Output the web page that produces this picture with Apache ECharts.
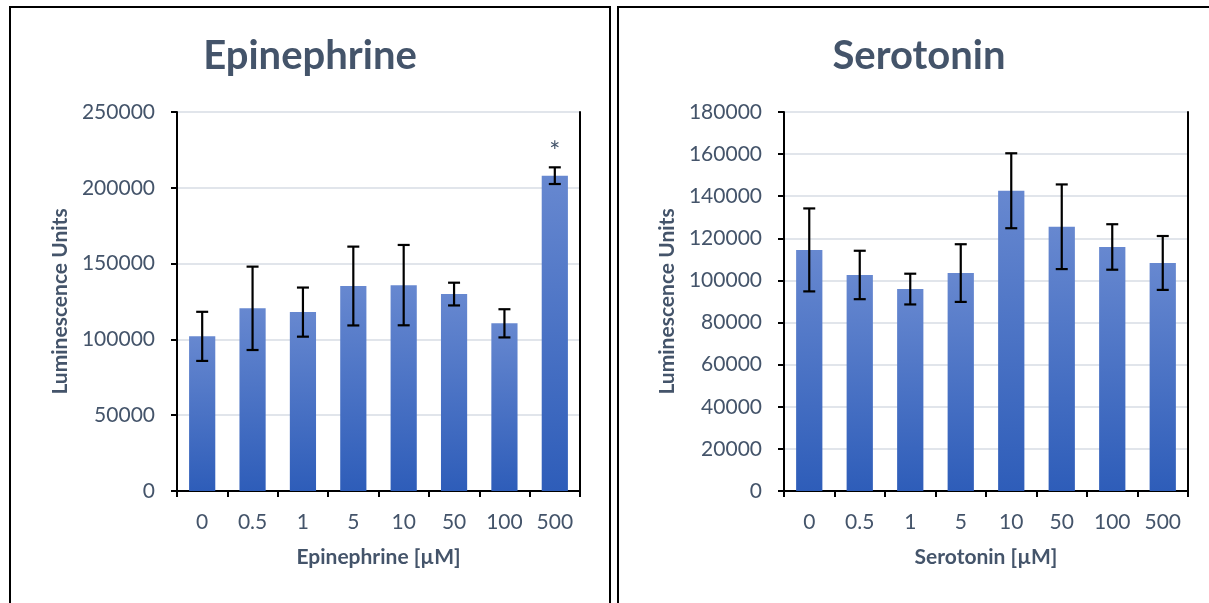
<!DOCTYPE html>
<html>
<head>
<meta charset="utf-8">
<script src="https://cdn.jsdelivr.net/npm/echarts@6/dist/echarts.min.js"></script>
<style>
html,body{margin:0;padding:0;background:#fff;}
#c{width:1209px;height:603px;}
</style>
</head>
<body>
<div id="c"></div>
<script>
// ---- data ----
const categories = ['0', '0.5', '1', '5', '10', '50', '100', '500'];
const epiValues = [102000, 120500, 118000, 135200, 135800, 129900, 110600, 208000];
const epiErrors = [16200, 27500, 16200, 26000, 26500, 7500, 9300, 5500];
const epiMarks = ['', '', '', '', '', '', '', '*'];
const seroValues = [114500, 102600, 95900, 103500, 142600, 125500, 115900, 108300];
const seroErrors = [19700, 11500, 7300, 13700, 17800, 20100, 10800, 12800];
const seroMarks = ['', '', '', '', '', '', '', ''];
const epiTicks = {min: 0, max: 250000, interval: 50000};
const seroTicks = {min: 0, max: 180000, interval: 20000};

const FONT = 'Lato';
const TXT = '#44546A';

const chart = echarts.init(document.getElementById('c'), null, {renderer: 'canvas'});

function barGradient() {
  return new echarts.graphic.LinearGradient(0, 0, 0, 1, [
    {offset: 0, color: '#6788D0'},
    {offset: 1, color: '#2E5DB9'}
  ]);
}

function errorSeries(values, errors, marks, idx) {
  const data = values.map((v, i) => [i, v - errors[i], v + errors[i], marks[i]]);
  return {
    type: 'custom',
    xAxisIndex: idx * 2, yAxisIndex: idx * 2,
    z: 5,
    data: data,
    renderItem: function (params, api) {
      const x = api.value(0);
      const lo = api.coord([x, api.value(1)]);
      const hi = api.coord([x, api.value(2)]);
      const cap = 6;
      const style = {stroke: '#000', lineWidth: 2.2};
      const children = [
        {type: 'line', shape: {x1: lo[0], y1: lo[1], x2: hi[0], y2: hi[1]}, style: style},
        {type: 'line', shape: {x1: lo[0] - cap, y1: lo[1], x2: lo[0] + cap, y2: lo[1]}, style: style},
        {type: 'line', shape: {x1: hi[0] - cap, y1: hi[1], x2: hi[0] + cap, y2: hi[1]}, style: style}
      ];
      const mk = data[params.dataIndex][3];
      if (mk) {
        children.push({type: 'text', style: {
          text: mk, x: hi[0], y: hi[1] - 2, align: 'center', verticalAlign: 'bottom',
          fill: TXT, font: '26px ' + FONT
        }});
      }
      return {type: 'group', children: children};
    }
  };
}

const grids = [
  {left: 177, top: 112, width: 403, height: 379},
  {left: 784, top: 112, width: 404, height: 379}
];

function xAxes(gi, name) {
  return [{
    type: 'category', gridIndex: gi, data: categories,
    axisLine: {lineStyle: {color: '#000', width: 2}},
    axisTick: {show: true, length: 6, lineStyle: {color: '#000', width: 2}},
    axisLabel: {color: TXT, fontFamily: FONT, fontSize: 21, margin: 21},
    name: name, nameLocation: 'middle', nameGap: 56,
    nameTextStyle: {color: TXT, fontFamily: FONT, fontSize: 21, fontWeight: 'bold'}
  }, {
    type: 'category', gridIndex: gi, data: categories, position: 'top',
    axisLine: {lineStyle: {color: '#000', width: 2}},
    axisTick: {show: false}, axisLabel: {show: false}
  }];
}

function yAxes(gi, t) {
  return [{
    type: 'value', gridIndex: gi, min: t.min, max: t.max, interval: t.interval,
    axisLine: {show: true, lineStyle: {color: '#000', width: 2}},
    axisTick: {show: true, length: 6, lineStyle: {color: '#000', width: 2}},
    axisLabel: {color: TXT, fontFamily: FONT, fontSize: 21, margin: 22, formatter: v => String(v)},
    splitLine: {show: true, lineStyle: {color: '#E1E5EB', width: 2}},
    name: 'Luminescence Units', nameLocation: 'middle', nameGap: 106,
    nameTextStyle: {color: TXT, fontFamily: FONT, fontSize: 21, fontWeight: 'bold'}
  }, {
    type: 'value', gridIndex: gi, min: t.min, max: t.max, interval: t.interval, position: 'right',
    axisLine: {show: true, lineStyle: {color: '#000', width: 2}},
    axisTick: {show: false}, axisLabel: {show: false}, splitLine: {show: false}
  }];
}

chart.setOption({
  backgroundColor: '#fff',
  animation: false,
  textStyle: {fontFamily: FONT},
  title: [
    {text: 'Epinephrine', left: 305, top: 31, textAlign: 'center',
     textStyle: {color: TXT, fontFamily: FONT, fontSize: 40, fontWeight: 'bold'}},
    {text: 'Serotonin', left: 914, top: 31, textAlign: 'center',
     textStyle: {color: TXT, fontFamily: FONT, fontSize: 40, fontWeight: 'bold'}}
  ],
  graphic: [
    {type: 'rect', shape: {x: 10, y: 7, width: 600, height: 620}, style: {fill: 'none', stroke: '#000', lineWidth: 2}, silent: true},
    {type: 'rect', shape: {x: 618, y: 7, width: 620, height: 620}, style: {fill: 'none', stroke: '#000', lineWidth: 2}, silent: true}
  ],
  grid: grids,
  xAxis: [].concat(xAxes(0, 'Epinephrine [µM]'), xAxes(1, 'Serotonin [µM]')),
  yAxis: [].concat(yAxes(0, epiTicks), yAxes(1, seroTicks)),
  series: [
    {type: 'bar', xAxisIndex: 0, yAxisIndex: 0, data: epiValues, barWidth: '52%',
     itemStyle: {color: barGradient()}},
    errorSeries(epiValues, epiErrors, epiMarks, 0),
    {type: 'bar', xAxisIndex: 2, yAxisIndex: 2, data: seroValues, barWidth: '52%',
     itemStyle: {color: barGradient()}},
    errorSeries(seroValues, seroErrors, seroMarks, 1)
  ]
});
</script>
</body>
</html>
